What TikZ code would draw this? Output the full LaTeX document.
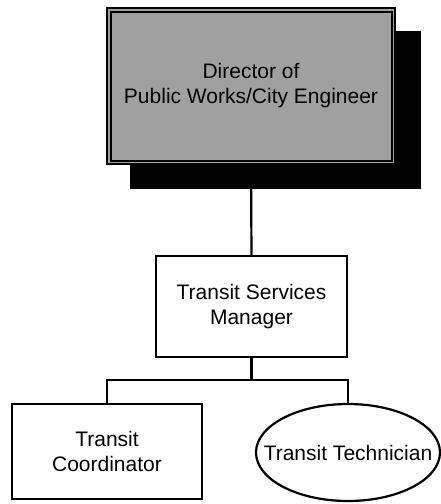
\documentclass[tikz,border=0pt]{standalone}
\usepackage{fontspec}
\setmainfont{Liberation Sans}
\usetikzlibrary{shapes.geometric,backgrounds}
\definecolor{boxgray}{RGB}{160,160,160}
\begin{document}
\begin{tikzpicture}[x=1pt,y=-1pt,
  box/.style={draw,line width=2.2pt,fill=white,inner sep=0pt,align=center,
    font=\fontsize{21}{25}\selectfont},
  conn/.style={line width=2.2pt}]
\useasboundingbox (0,0) rectangle (441,504);
% shadow of the director box
\node[fill=black,inner sep=0pt,minimum width=291pt,minimum height=158pt] (shadow) at (275.5,110) {};
% director box with double border
\node[box,fill=boxgray,line width=2pt,double=boxgray,double distance=1.5pt,
      minimum width=284.5pt,minimum height=152.5pt] (dir) at (251,86)
      {Director of\\Public Works/City Engineer};
\node[box,minimum width=191pt,minimum height=101pt] (mgr) at (251.5,306.5)
      {Transit Services\\Manager};
\node[box,minimum width=190pt,minimum height=95pt] (coord) at (107,451.5)
      {Transit\\Coordinator};
\node[box,ellipse,minimum width=184pt,minimum height=97pt] (tech) at (348,452.5)
      {\makebox[0pt]{Transit Technician}};
\coordinate (bus) at (251.5,380);
\begin{pgfonlayer}{background}
  \draw[conn] (dir.south) -- (mgr.north);
\end{pgfonlayer}
\draw[conn] (mgr.south) -- (bus);
\draw[conn] (coord.north) |- (bus) -| (tech.north);
\end{tikzpicture}
\end{document}
